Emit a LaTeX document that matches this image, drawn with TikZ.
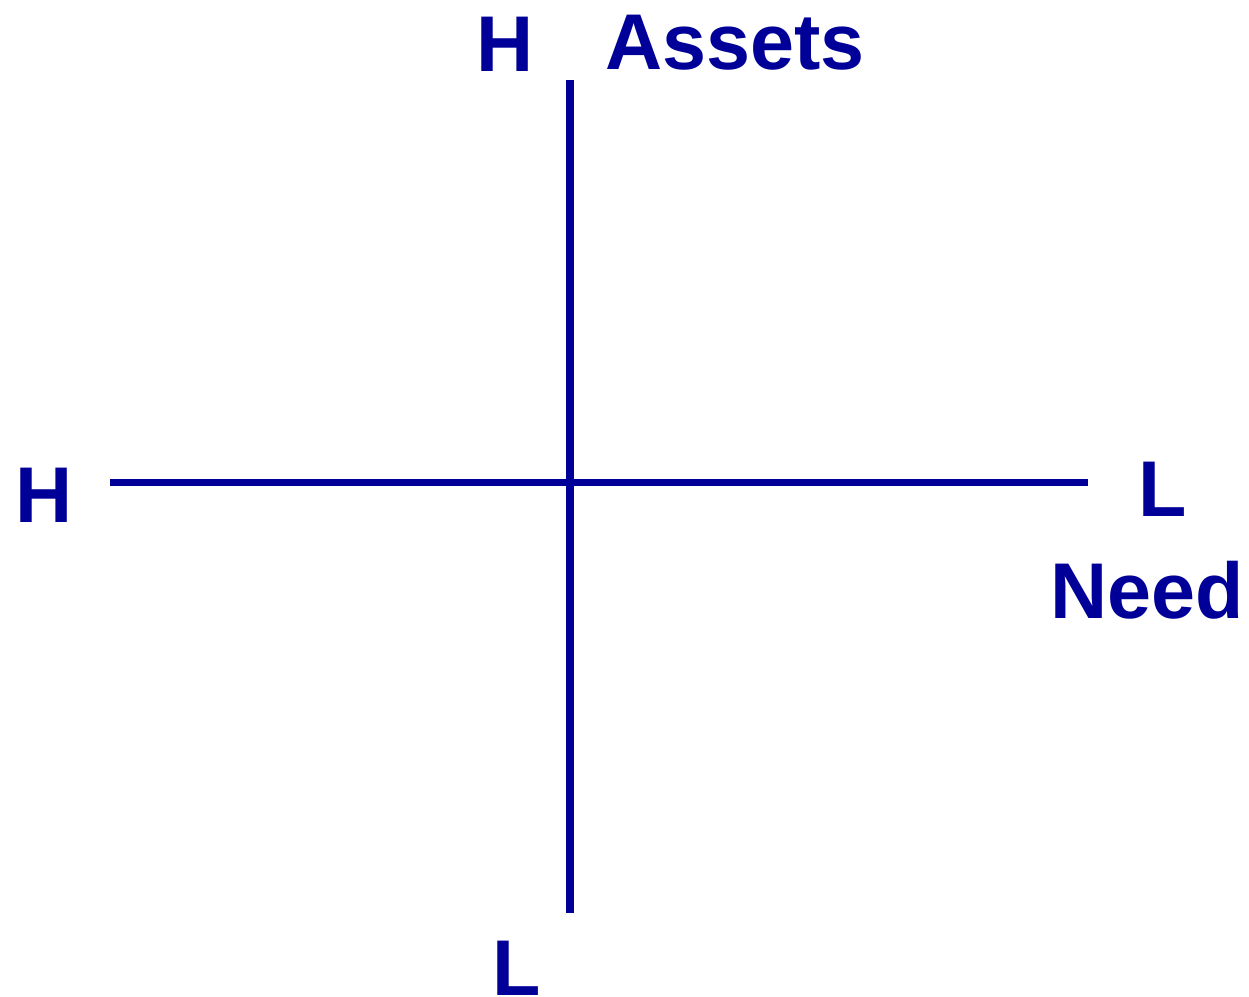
\documentclass[tikz,border=0pt]{standalone}
\usepackage{fontspec}
\setmainfont{Liberation Sans}
\definecolor{AxisBlue}{RGB}{0, 0, 153}

\begin{document}
\begin{tikzpicture}[
    axislabel/.style={AxisBlue, font=\fontsize{22.5}{26}\selectfont\bfseries,
        inner sep=0pt, text height=16.1pt, text depth=0pt},
    axisline/.style={AxisBlue, line width=2pt}
]
\useasboundingbox (0,0) rectangle (12.49,9.97);

% Axis ends
\coordinate (top) at (5.70,9.17);
\coordinate (bottom) at (5.70,0.84);
\coordinate (left) at (1.10,5.14);
\coordinate (right) at (10.88,5.14);

% Axes
\draw[axisline] (top) -- (bottom);
\draw[axisline] (left) -- (right);

% Labels
\node[axislabel] (assetsH) at (5.05,9.54) {H};
\node[axislabel] (assets) at (7.35,9.56) {Assets};
\node[axislabel] (assetsL) at (5.17,0.30) {L};
\node[axislabel] (needH) at (0.44,5.03) {H};
\node[axislabel] (needL) at (11.63,5.09) {L};
\node[axislabel] (need) at (11.47,4.07) {Need};

\end{tikzpicture}
\end{document}
